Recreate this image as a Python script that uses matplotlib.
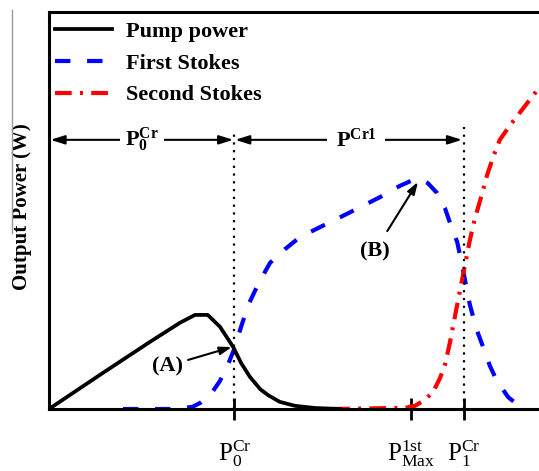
import numpy as np
import matplotlib
matplotlib.use("Agg")
import matplotlib.pyplot as plt
from matplotlib.lines import Line2D

plt.rcParams['font.family'] = ['Liberation Serif', 'DejaVu Serif']
plt.rcParams['mathtext.fontset'] = 'custom'
plt.rcParams['mathtext.rm'] = 'Liberation Serif'
plt.rcParams['mathtext.bf'] = 'Liberation Serif:bold'
plt.rcParams['mathtext.it'] = 'Liberation Serif:italic'

# schematic curves (arbitrary units, x: input pump, y: output power)
pump_x = [0, 10.4, 20.6, 26.7, 29.8, 32.4, 34.9, 37.6, 39.2, 41.0, 43.1, 44.7, 47.1, 50.2, 54.3, 59.4]
pump_y = [0, 8.6, 16.9, 21.7, 23.7, 23.7, 20.7, 15.6, 11.6, 8.1, 5.0, 3.5, 1.8, 0.8, 0.25, 0]

first_x = [15.1, 24.7, 29.2, 30.8, 32.9, 34.9, 36.5, 37.8, 39.0, 40.6, 42.7, 45.1, 48.2, 51.2, 55.3,
           60.4, 67.6, 71.6, 74.3, 75.7, 77.3, 79.2, 80.8, 82.2, 83.3, 84.3, 85.1, 85.9, 87.3, 88.6,
           90.0, 91.4, 93.7, 95.7, 97.1]
first_y = [0, 0, 0.5, 1.5, 3.5, 7.1, 11.1, 15.1, 19.9, 26.0, 31.5, 36.8, 40.3, 43.3, 45.8,
           48.9, 53.4, 56.2, 57.7, 57.9, 56.9, 54.4, 50.6, 45.6, 42.1, 36.3, 31.2, 26.2, 19.9, 15.6,
           10.8, 7.1, 3.0, 1.0, 0.3]

second_x = [58.0, 72.7, 74.7, 76.7, 78.4, 79.8, 80.8, 81.8, 82.9, 83.9, 84.9, 85.9, 86.9, 88.0,
            89.4, 90.8, 92.0, 94.1, 96.5, 100.0]
second_y = [0, 0.3, 0.8, 2.3, 4.3, 7.8, 11.1, 16.6, 23.7, 30.0, 36.3, 42.6, 47.9, 52.6,
            58.9, 64.0, 67.8, 71.5, 75.3, 80.9]

# threshold positions
p0_cr = 37.8
p1st_max = 73.9
p1_cr = 84.7
tick_pos = [p0_cr, p1st_max, p1_cr]
tick_labels = [r'$\mathrm{P}_{0}^{\mathrm{Cr}}$', r'$\mathrm{P}_{\mathrm{Max}}^{\mathrm{1st}}$',
               r'$\mathrm{P}_{1}^{\mathrm{Cr}}$']

fig = plt.figure(figsize=(5.39, 4.71), dpi=100)
ax = fig.add_axes([49/539, 62/471, 490/539, 397/471])

ax.plot(pump_x, pump_y, color='black', lw=2.7, label='Pump power', zorder=3)
ax.plot(first_x, first_y, color='blue', lw=3, dashes=(3.7, 4.0), label='First Stokes', zorder=2)
ax.plot(second_x, second_y, color='red', lw=3, dashes=(4, 2, 0.7, 2), label='Second Stokes', zorder=2)

ax.set_xlim(0, 100)
ax.set_ylim(0, 100)

# dotted threshold lines
ax.plot([p0_cr, p0_cr], [0, 70.3], color='black', lw=1.6, ls=(0, (1, 2.5)))
ax.plot([p1_cr, p1_cr], [0, 71.0], color='black', lw=1.6, ls=(0, (1, 2.5)))

# range arrows
arr_y = 67.8
aprops = dict(arrowstyle='<|-|>,head_length=0.7,head_width=0.22', color='black', lw=1.5,
              shrinkA=0, shrinkB=0, mutation_scale=12)
ax.annotate('', xy=(0.3, arr_y), xytext=(p0_cr - 0.2, arr_y), arrowprops=aprops)
ax.annotate('', xy=(p0_cr + 0.2, arr_y), xytext=(p1_cr - 0.4, arr_y), arrowprops=aprops)
ax.text(19.0, arr_y, r'$\mathbf{P}_{\mathbf{0}}^{\mathbf{Cr}}$', fontsize=16, ha='center', va='center',
        bbox=dict(facecolor='white', edgecolor='none', pad=4), zorder=5)
ax.text(62.7, arr_y, r'$\mathbf{P}^{\mathbf{Cr1}}$', fontsize=16, ha='center', va='center',
        bbox=dict(facecolor='white', edgecolor='none', pad=6), zorder=5)

# point labels
ax.annotate('(A)', xy=(37.3, 15.6), xytext=(24.1, 10.8), fontsize=16, fontweight='bold',
            ha='center', va='center',
            arrowprops=dict(arrowstyle='-|>,head_length=0.6,head_width=0.2', color='black', lw=1.5,
                            shrinkA=2, shrinkB=0, mutation_scale=12))
ax.annotate('(B)', xy=(75.3, 57.2), xytext=(66.5, 39.8), fontsize=16, fontweight='bold',
            ha='center', va='center',
            arrowprops=dict(arrowstyle='-|>,head_length=0.6,head_width=0.2', color='black', lw=1.5,
                            shrinkA=6, shrinkB=0, mutation_scale=12))

ax.set_xticks(tick_pos)
ax.set_xticklabels(tick_labels, fontsize=18)
ax.tick_params(axis='x', direction='inout', length=16, width=2, pad=13)
ax.set_yticks([])

for side in ['left', 'bottom', 'top']:
    ax.spines[side].set_linewidth(2.2)
ax.spines['right'].set_visible(False)

ax.set_ylabel('Output Power (W)', fontsize=15, fontweight='bold')
ax.yaxis.set_label_coords(-0.035, 0.51)

leg = ax.legend(loc='upper left', bbox_to_anchor=(0.0, 0.99), frameon=False, handlelength=2.6,
                handletextpad=0.6, labelspacing=0.5, borderaxespad=0.05, borderpad=0.2,
                prop={'size': 16, 'weight': 'bold'})

# grey page border remnant at left
fig.add_artist(Line2D([12/539, 12/539], [1 - 10/471, 1 - 233/471], color='0.6', lw=1))

fig.savefig('out.png', dpi=100)
